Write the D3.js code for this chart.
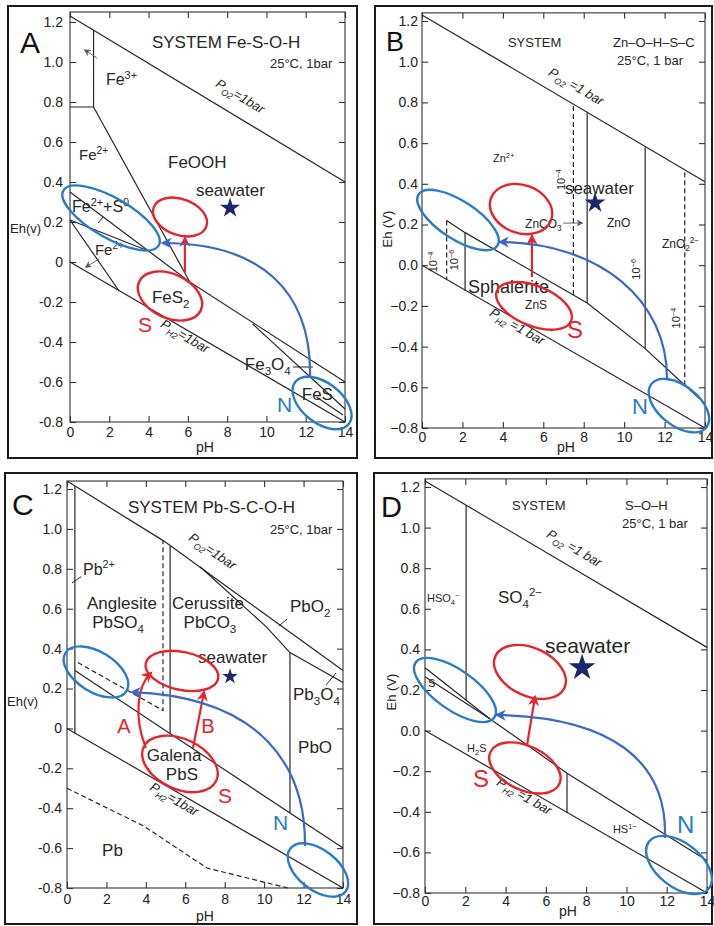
<!DOCTYPE html>
<html>
<head>
<meta charset="utf-8">
<script src="https://cdn.jsdelivr.net/npm/d3@7"></script>
<style>
  body { margin: 0; background: #fff; }
  svg { display: block; }
  text { font-family: "Liberation Sans", Arial, sans-serif; }
</style>
</head>
<body>
<div id="chart"></div>
<script>
// shared axis ticks
const pHTicks = [0, 2, 4, 6, 8, 10, 12, 14];
const ehTicks = [-0.8, -0.6, -0.4, -0.2, 0, 0.2, 0.4, 0.6, 0.8, 1.0, 1.2];

// ---------- A: Fe-S-O-H  (points are [pH, Eh])
const feSolid = [
  [[0, 1.23], [14, 0.40]],
  [[0, 0], [14, -0.8]],
  [[0, 0.775], [1.2, 0.775], [1.2, 1.16]],
  [[1.2, 0.775], [6.1, -0.1]],
  [[0, 0.35], [6.1, -0.1], [14, -0.6]],
  [[0, 0.21], [4.0, 0.055]],
  [[0, 0.21], [2.5, -0.145]],
  [[9.3, -0.31], [14, -0.735]],
  [[12.55, -0.675], [13.9, -0.765]]
];
const feDashed = [];
const feLabels = [
  ["SYSTEM Fe-S-O-H", 4.17, 1.07, "t17"],
  ["25°C, 1bar", 10.18, 0.97, "t13"],
  ["Fe^{3+}", 1.83, 0.885, "t16"],
  ["Fe^{2+}", 0.46, 0.51, "t15"],
  ["FeOOH", 4.99, 0.47, "t17"],
  ["seawater", 6.41, 0.33, "t17"],
  ["Fe^{2+}+S^{0}", 0.1, 0.25, "t16"],
  ["Fe^{2+}", 1.27, 0.035, "t15"],
  ["FeS_{2}", 4.17, -0.205, "t17"],
  ["Fe_{3}O_{4}", 8.9, -0.54, "t17"],
  ["FeS", 11.8, -0.69, "t17"],
  ["S", 3.46, -0.35, "r21"],
  ["N", 10.54, -0.75, "b21"]
];
const feTilted = [["P_{O2}=1bar", 8.55, 0.81, 0], ["P_{H2}=1bar", 5.75, -0.39, 1]];
const feLeaders = [[[11.35, -0.525], [12.37, -0.525]], [[1.68, 0.225], [1.43, 0.195]]];
const feGrey = [[[1.37, 1.02], [0.76, 1.06]], [[1.48, 0.015], [0.81, -0.025]]];
const feRed = [[[5.85, -0.055], [5.85, 0.12]]];
const feBlue = [[[12.22, -0.58], [12.32, -0.14], [9.67, 0.095], [4.73, 0.095]]];
const feEllipses = [["blue", 2.09, 0.22], ["red", 5.6, 0.225], ["red", 5.09, -0.17], ["blue", 12.83, -0.705]];
const feStar = [8.15, 0.27];

// ---------- B: Zn-O-H-S-C
const znSolid = [
  [[0, 1.23], [14, 0.41]],
  [[0, 0], [14, -0.8]],
  [[1.22, 0.22], [2.13, 0.16], [7.49, -0.146], [8.17, -0.186], [11.04, -0.41], [13.0, -0.59], [14, -0.68]],
  [[2.13, 0.16], [2.13, -0.126]],
  [[8.17, -0.186], [8.17, 0.75]],
  [[11.04, -0.41], [11.04, 0.58]]
];
const znDashed = [
  [[1.22, 0.22], [1.22, -0.07]],
  [[7.49, -0.146], [7.49, 0.79]],
  [[13.0, -0.59], [13.0, 0.47]]
];
const znLabels = [
  ["SYSTEM", 4.25, 1.072, "t13"],
  ["Zn–O–H–S–C", 9.45, 1.072, "t13"],
  ["25°C, 1 bar", 9.65, 0.984, "t13"],
  ["Zn^{2+}", 3.51, 0.507, "t11"],
  ["seawater", 7.07, 0.35, "t17"],
  ["ZnCO_{3}", 5.1, 0.183, "t12"],
  ["ZnO", 9.15, 0.188, "t12"],
  ["ZnO_{2}^{2−}", 11.87, 0.085, "t12"],
  ["Sphalerite", 2.28, -0.137, "t18"],
  ["ZnS", 5.1, -0.215, "t12"],
  ["S", 7.17, -0.36, "r24"],
  ["N", 10.39, -0.73, "b22"],
  ["10^{−4}", 0.74, 0.016, "v11"],
  ["10^{−6}", 1.78, 0.026, "v11"],
  ["10^{−4}", 7.07, 0.42, "v11"],
  ["10^{−6}", 10.78, -0.02, "v11"],
  ["10^{−4}", 12.76, -0.26, "v11"]
];
const znTilted = [["P_{O2} =1 bar", 7.52, 0.86, 0], ["P_{H2} =1 bar", 4.6, -0.32, 1]];
const znLeaders = [];
const znGrey = [[[6.98, 0.207], [7.92, 0.207]]];
const znRed = [[[5.44, -0.058], [5.44, 0.144]]];
const znBlue = [[[12.12, -0.564], [12.17, -0.171], [8.81, 0.109], [3.86, 0.114]]];
const znEllipses = [["blue", 1.78, 0.222], ["red", 4.9, 0.276], ["red", 5.54, -0.2], ["blue", 12.71, -0.69]];
const znStar = [8.56, 0.306];

// ---------- C: Pb-S-C-O-H
const pbSolid = [
  [[0, 1.24], [4.9, 0.94], [14, 0.29]],
  [[0, 0], [14, -0.8]],
  [[6.75, 0.81], [10.1, 0.51], [11.31, 0.38], [14, 0.23]],
  [[0.4, 0.29], [14, -0.60]],
  [[0.4, 1.215], [0.4, -0.023]],
  [[5.23, 0.916], [5.23, -0.026]],
  [[11.31, 0.38], [11.31, -0.424]]
];
const pbDashed = [
  [[0.55, 0.33], [4.87, 0.09], [4.87, 0.94]],
  [[0, -0.30], [3.9, -0.49], [7.1, -0.70], [11.2, -0.80]]
];
const pbLabels = [
  ["SYSTEM Pb-S-C-O-H", 3.09, 1.08, "t17"],
  ["25°C, 1bar", 10.3, 0.974, "t13"],
  ["Pb^{2+}", 0.81, 0.77, "t16"],
  ["Anglesite", 2.79, 0.60, "m17"],
  ["PbSO_{4}", 2.59, 0.503, "m17"],
  ["Cerussite", 7.15, 0.60, "m17"],
  ["PbCO_{3}", 7.25, 0.503, "m17"],
  ["PbO_{2}", 11.31, 0.583, "t17"],
  ["seawater", 6.65, 0.328, "t17"],
  ["Pb_{3}O_{4}", 11.46, 0.142, "t17"],
  ["PbO", 11.72, -0.123, "t17"],
  ["Galena", 5.43, -0.163, "m17"],
  ["PbS", 5.83, -0.259, "m17"],
  ["Pb", 1.78, -0.64, "t17"],
  ["A", 2.89, -0.023, "rm20"],
  ["B", 7.15, -0.023, "rm20"],
  ["S", 7.66, -0.374, "r21"],
  ["N", 10.45, -0.51, "b21"]
];
const pbTilted = [["P_{O2}=1bar", 7.25, 0.87, 0], ["P_{H2}=1bar", 5.33, -0.374, 1]];
const pbLeaders = [[[0.25, 0.729], [0.71, 0.76]], [[10.75, 0.513], [11.16, 0.548]], [[13.14, 0.218], [13.65, 0.278]]];
const pbGrey = [];
const pbRed = [[[6.39, -0.098], [6.95, 0.182]], [[4.0, -0.098], [3.35, 0.067], [3.6, 0.218], [4.26, 0.278]]];
const pbBlue = [[[12.07, -0.59], [12.12, -0.209], [10.04, 0.157], [3.3, 0.182]]];
const pbEllipses = [["blue", 1.47, 0.283], ["red", 5.83, 0.288], ["red", 5.73, -0.178], ["blue", 12.73, -0.71]];
const pbStar = [8.27, 0.26];

// ---------- D: S-O-H
const sSolid = [
  [[0, 1.23], [14, 0.41]],
  [[0, 0], [14, -0.8]],
  [[0, 0.31], [3.2, 0.06]],
  [[0, 0.265], [3.2, 0.06], [7.05, -0.21], [14, -0.64]],
  [[2.04, 1.11], [2.04, 0.15]],
  [[7.05, -0.21], [7.05, -0.405]]
];
const sDashed = [];
const sLabels = [
  ["SYSTEM", 4.32, 1.087, "t13"],
  ["S–O–H", 9.93, 1.087, "t13"],
  ["25°C, 1 bar", 9.78, 0.998, "t13"],
  ["HSO_{4}^{−}", 0.1, 0.633, "t11"],
  ["SO_{4}^{2−}", 3.62, 0.628, "t17"],
  ["seawater", 5.96, 0.382, "t21"],
  ["S", 0.15, 0.215, "t11"],
  ["H_{2}S", 2.09, -0.105, "t11"],
  ["S", 2.38, -0.278, "r24"],
  ["HS^{1−}", 9.33, -0.504, "t11"],
  ["N", 12.51, -0.504, "b24"]
];
const sTilted = [["P_{O2} =1 bar", 7.3, 0.88, 0], ["P_{H2} =1 bar", 4.82, -0.342, 1]];
const sLeaders = [];
const sGrey = [];
const sRed = [[[5.06, -0.076], [5.46, 0.166]]];
const sBlue = [[[11.91, -0.529], [12.06, -0.145], [9.18, 0.067], [3.57, 0.077]]];
const sEllipses = [["blue", 1.49, 0.2], ["red", 5.21, 0.289], ["red", 4.96, -0.184], ["blue", 12.61, -0.662]];
const sStar = [7.8, 0.31];

// ---------- styles
const red = "#e3262d", blue = "#2a7cc6", arcBlue = "#3a68c2", ink = "#262626", navy = "#17296b";
const kinds = {
  t11: [11, "start", ink], t12: [12, "start", ink], t13: [13, "start", ink], t15: [15, "start", ink],
  t16: [16, "start", ink], t17: [17, "start", ink], t18: [18, "start", ink], t21: [21, "start", ink],
  m17: [17, "middle", ink], r21: [21, "start", red], r24: [24, "start", red], rm20: [20, "middle", red],
  b21: [21, "start", blue], b22: [22, "start", blue], b24: [24, "start", blue], v11: [11, "middle", ink]
};
const fmtDash = d => d === 0 ? "0" : (d < 0 ? "-" : "") + Math.abs(d).toFixed(1);
const fmtMinus = d => (d < 0 ? "−" : "") + Math.abs(d).toFixed(1);

const panels = [
  { letter: "A", lp: [20, 53], lsize: 30, box: [8, 6, 357, 458], xr: [70, 345], yr: [422, 22], top: 1.25, fmt: fmtDash,
    solid: feSolid, dashed: feDashed, labels: feLabels, tilted: feTilted, leaders: feLeaders, grey: feGrey,
    red: feRed, blue: feBlue, ellipses: feEllipses, star: feStar, starSize: 125,
    shapes: [[55, 20, 30], [28, 18, 20], [34, 22, 25], [34, 20, 38]],
    eh: { text: "Eh(v)", x: 10, y: 233, rot: false }, ph: [205, 452], lpad: 7, bpad: 5 },
  { letter: "B", lp: [386, 51], lsize: 27, box: [375, 6, 712, 458], xr: [422, 705], yr: [428, 21], top: 1.24, fmt: fmtMinus,
    solid: znSolid, dashed: znDashed, labels: znLabels, tilted: znTilted, leaders: znLeaders, grey: znGrey,
    red: znRed, blue: znBlue, ellipses: znEllipses, star: znStar, starSize: 135,
    shapes: [[47, 19, 33], [32, 24, 20], [40, 20, 22], [35, 20, 38]],
    eh: { text: "Eh (V)", x: 387, y: 229, rot: true }, ph: [566, 452], lpad: 4, bpad: 4 },
  { letter: "C", lp: [12, 515], lsize: 30, box: [5, 473, 357, 924], xr: [67, 343], yr: [888, 489], top: 1.24, fmt: fmtDash,
    solid: pbSolid, dashed: pbDashed, labels: pbLabels, tilted: pbTilted, leaders: pbLeaders, grey: pbGrey,
    red: pbRed, blue: pbBlue, ellipses: pbEllipses, star: pbStar, starSize: 75,
    shapes: [[36, 20, 32], [37, 19, 12], [40, 25, 25], [35, 20, 38]],
    eh: { text: "Eh(v)", x: 7, y: 706, rot: false }, ph: [205, 921], lpad: 5, bpad: 6 },
  { letter: "D", lp: [381, 517], lsize: 29, box: [374, 473, 712, 924], xr: [425, 707], yr: [893, 487], top: 1.24, fmt: fmtMinus,
    solid: sSolid, dashed: sDashed, labels: sLabels, tilted: sTilted, leaders: sLeaders, grey: sGrey,
    red: sRed, blue: sBlue, ellipses: sEllipses, star: sStar, starSize: 220,
    shapes: [[48, 20, 35], [38, 24, 25], [38, 22, 25], [38, 22, 38]],
    eh: { text: "Eh (V)", x: 391, y: 692, rot: true }, ph: [568, 916], lpad: 5, bpad: 3 }
];

const svg = d3.select("#chart").append("svg").attr("width", 714).attr("height", 926);
const defs = svg.append("defs");
[["arrRed", red, 11], ["arrBlue", arcBlue, 11], ["arrGrey", "#555", 7]].forEach(([id, c, s]) => {
  defs.append("marker").attr("id", id).attr("viewBox", "0 0 10 10")
    .attr("refX", 8).attr("refY", 5).attr("markerWidth", s).attr("markerHeight", s)
    .attr("markerUnits", "userSpaceOnUse").attr("orient", "auto")
    .append("path").attr("d", "M0,0 L10,5 L0,10 L3,5 z").attr("fill", c);
});

// sub/superscript text: "Fe^{3+}", "FeS_{2}"
function rich(t, str, size) {
  const re = /([_^])\{([^}]*)\}|([^_^]+)/g;
  let m, off = 0;
  while ((m = re.exec(str)) !== null) {
    if (m[3] !== undefined) {
      t.append("tspan").attr("dy", -off).text(m[3]);
      off = 0;
    } else {
      const d = m[1] === "^" ? -0.4 * size : 0.28 * size;
      t.append("tspan").attr("font-size", size * 0.68).attr("dy", d - off).text(m[2]);
      off = d;
    }
  }
}

panels.forEach(p => {
  const x = d3.scaleLinear().domain([0, 14]).range(p.xr);
  const y = d3.scaleLinear().domain([-0.8, 1.2]).range(p.yr);
  const g = svg.append("g");
  const line = d3.line().x(d => x(d[0])).y(d => y(d[1]));
  const pathOf = pts => {
    const q = d3.path();
    q.moveTo(x(pts[0][0]), y(pts[0][1]));
    if (pts.length === 4) q.bezierCurveTo(x(pts[1][0]), y(pts[1][1]), x(pts[2][0]), y(pts[2][1]), x(pts[3][0]), y(pts[3][1]));
    else q.lineTo(x(pts[1][0]), y(pts[1][1]));
    return q.toString();
  };

  // panel border and plot frame
  g.append("rect").attr("x", p.box[0]).attr("y", p.box[1])
    .attr("width", p.box[2] - p.box[0]).attr("height", p.box[3] - p.box[1])
    .attr("fill", "none").attr("stroke", "#1a1a1a").attr("stroke-width", 2);
  g.append("rect").attr("x", x(0)).attr("y", y(p.top))
    .attr("width", x(14) - x(0)).attr("height", y(-0.8) - y(p.top))
    .attr("fill", "none").attr("stroke", "#333").attr("stroke-width", 1.1);

  // axes with inward ticks
  const axes = [
    [d3.axisBottom(x).tickValues(pHTicks).tickFormat(d3.format("d")).tickPadding(p.bpad), `translate(0,${y(-0.8)})`],
    [d3.axisLeft(y).tickValues(ehTicks).tickFormat(p.fmt).tickPadding(p.lpad), `translate(${x(0)},0)`],
    [d3.axisTop(x).tickValues(pHTicks).tickFormat(""), `translate(0,${y(p.top)})`],
    [d3.axisRight(y).tickValues(ehTicks).tickFormat(""), `translate(${x(14)},0)`]
  ];
  axes.forEach(([ax, tr]) => {
    const a = g.append("g").attr("transform", tr).call(ax.tickSizeInner(-6).tickSizeOuter(0));
    a.select(".domain").remove();
    a.selectAll("line").attr("stroke", "#333").attr("stroke-width", 1.1);
    a.selectAll("text").attr("font-size", 14).attr("fill", "#222")
      .style("font-family", '"Liberation Sans", Arial, sans-serif');
  });

  // axis titles
  const eh = g.append("text").attr("font-size", 13).attr("fill", "#222").text(p.eh.text);
  if (p.eh.rot) eh.attr("text-anchor", "middle").attr("transform", `translate(${p.eh.x},${p.eh.y}) rotate(-90)`).attr("dy", "0.35em");
  else eh.attr("x", p.eh.x).attr("y", p.eh.y);
  g.append("text").attr("x", p.ph[0]).attr("y", p.ph[1]).attr("text-anchor", "middle")
    .attr("font-size", 14).attr("fill", "#222").text("pH");
  g.append("text").attr("x", p.lp[0]).attr("y", p.lp[1]).attr("font-size", p.lsize).attr("fill", "#111").text(p.letter);

  // phase boundaries
  g.selectAll(null).data(p.solid).enter().append("path").attr("d", line)
    .attr("fill", "none").attr("stroke", ink).attr("stroke-width", 1.2);
  g.selectAll(null).data(p.dashed).enter().append("path").attr("d", line)
    .attr("fill", "none").attr("stroke", ink).attr("stroke-width", 1.2).attr("stroke-dasharray", "5,3");
  g.selectAll(null).data(p.leaders).enter().append("path").attr("d", line)
    .attr("fill", "none").attr("stroke", ink).attr("stroke-width", 1);
  g.selectAll(null).data(p.grey).enter().append("path").attr("d", line)
    .attr("fill", "none").attr("stroke", "#666").attr("stroke-width", 1).attr("marker-end", "url(#arrGrey)");

  // labels
  p.labels.forEach(([txt, ph, e, k]) => {
    const [size, anchor, fill] = kinds[k];
    const t = g.append("text").attr("font-size", size).attr("fill", fill).attr("text-anchor", anchor);
    if (k === "v11") t.attr("transform", `translate(${x(ph)},${y(e)}) rotate(-90)`).attr("dy", "0.35em");
    else t.attr("x", x(ph)).attr("y", y(e));
    rich(t, txt, size);
  });
  p.tilted.forEach(([txt, ph, e, li]) => {
    const ln = p.solid[li], a = ln[0], b = ln[ln.length - 1];
    const ang = Math.atan2(y(b[1]) - y(a[1]), x(b[0]) - x(a[0])) * 180 / Math.PI;
    const t = g.append("text").attr("font-size", 13).attr("font-style", "italic").attr("fill", ink)
      .attr("text-anchor", "middle").attr("dy", "0.35em")
      .attr("transform", `translate(${x(ph)},${y(e)}) rotate(${ang})`);
    rich(t, txt, 13);
  });

  // ellipses, arrows, star
  p.ellipses.forEach(([c, ph, e], i) => {
    const [rx, ry, rot] = p.shapes[i];
    g.append("ellipse").attr("cx", x(ph)).attr("cy", y(e)).attr("rx", rx).attr("ry", ry)
      .attr("transform", `rotate(${rot},${x(ph)},${y(e)})`)
      .attr("fill", "none").attr("stroke", c === "red" ? red : blue).attr("stroke-width", 2.4);
  });
  p.red.forEach(pts => g.append("path").attr("d", pathOf(pts)).attr("fill", "none")
    .attr("stroke", red).attr("stroke-width", 2.2).attr("marker-end", "url(#arrRed)"));
  p.blue.forEach(pts => g.append("path").attr("d", pathOf(pts)).attr("fill", "none")
    .attr("stroke", arcBlue).attr("stroke-width", 2.2).attr("marker-end", "url(#arrBlue)"));
  g.append("path").attr("d", d3.symbol(d3.symbolStar, p.starSize)())
    .attr("transform", `translate(${x(p.star[0])},${y(p.star[1])})`).attr("fill", navy);
});
</script>
</body>
</html>
